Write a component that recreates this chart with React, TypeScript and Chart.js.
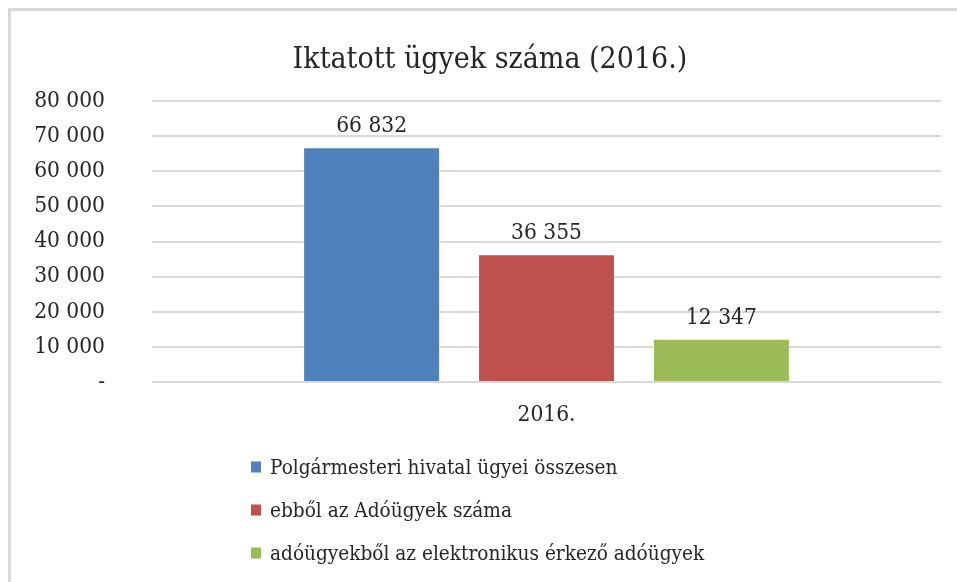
import React, { useEffect, useRef } from "react";
import { Chart, registerables } from "chart.js";

Chart.register(...registerables);

const TITLE = "Iktatott ügyek száma (2016.)";
const categories = ["2016."];
const seriesNames = [
  "Polgármesteri hivatal ügyei összesen",
  "ebből az Adóügyek száma",
  "adóügyekből az elektronikus érkező adóügyek",
];
const seriesValues = [[66832], [36355], [12347]];
const seriesColors = ["#4f81bd", "#c0504d", "#9bbb59"];
const yMin = 0;
const yMax = 80000;
const yStep = 10000;

const FONT = "'DejaVu Serif Condensed', 'DejaVu Serif', serif";
const TEXT = "#262626";

const fmt = (v: number) =>
  v === 0 ? "-" : String(Math.round(v)).replace(/\B(?=(\d{3})+(?!\d))/g, " ");

const titleDraw = {
  id: "titleDraw",
  afterDraw(chart: any) {
    const ctx = chart.ctx;
    ctx.save();
    ctx.font = `30px ${FONT}`;
    ctx.fillStyle = TEXT;
    ctx.textAlign = "center";
    ctx.textBaseline = "alphabetic";
    ctx.fillText(TITLE, 490, 68);
    ctx.restore();
  },
};

const dataLabels = {
  id: "dataLabels",
  afterDatasetsDraw(chart: any) {
    const ctx = chart.ctx;
    ctx.save();
    ctx.font = `22.5px ${FONT}`;
    ctx.fillStyle = TEXT;
    ctx.textAlign = "center";
    ctx.textBaseline = "alphabetic";
    chart.data.datasets.forEach((ds: any, i: number) => {
      const meta = chart.getDatasetMeta(i);
      meta.data.forEach((el: any, j: number) => {
        ctx.fillText(fmt(ds.data[j]), el.x, el.y - 15);
      });
    });
    ctx.restore();
  },
};

const legendList = {
  id: "legendList",
  afterDraw(chart: any) {
    const ctx = chart.ctx;
    const area = chart.chartArea;
    ctx.save();
    ctx.font = `20.6px ${FONT}`;
    ctx.textBaseline = "middle";
    ctx.textAlign = "left";
    chart.data.datasets.forEach((ds: any, i: number) => {
      const cy = area.bottom + 85 + i * 43;
      ctx.fillStyle = ds.backgroundColor;
      ctx.fillRect(251, cy - 5.5, 10, 11);
      ctx.fillStyle = TEXT;
      ctx.fillText(ds.label, 270, cy + 1.5);
    });
    ctx.restore();
  },
};

export default function App() {
  const ref = useRef<HTMLCanvasElement>(null);
  useEffect(() => {
    document.body.style.margin = "0";
    const chart = new Chart(ref.current!, {
      type: "bar",
      data: {
        labels: categories,
        datasets: seriesNames.map((name, i) => ({
          label: name,
          data: seriesValues[i],
          backgroundColor: seriesColors[i],
          borderColor: "rgba(255,255,255,0.3)",
          borderWidth: 1,
          categoryPercentage: 0.665,
          barPercentage: 0.783,
        })),
      },
      options: {
        animation: false,
        responsive: false,
        maintainAspectRatio: false,
        layout: { padding: { left: 0, right: 16, top: 101, bottom: 0 } },
        plugins: {
          legend: { display: false },
          tooltip: { enabled: false },
          title: { display: false },
        },
        scales: {
          x: {
            grid: { display: false },
            border: { display: false },
            ticks: {
              color: TEXT,
              font: { family: FONT, size: 22.5 },
              padding: 12,
            },
            afterFit: (s: any) => {
              s.height = 200;
            },
          },
          y: {
            min: yMin,
            max: yMax,
            grid: { color: "#d9d9d9", lineWidth: 2, drawTicks: false },
            border: { display: false },
            ticks: {
              stepSize: yStep,
              color: TEXT,
              font: { family: FONT, size: 22.5 },
              padding: 47,
              callback: (v: any) => fmt(Number(v)),
            },
            afterFit: (s: any) => {
              s.width = 152;
            },
          },
        },
      },
      plugins: [titleDraw, dataLabels, legendList],
    });
    return () => chart.destroy();
  }, []);
  return (
    <div
      style={{
        position: "absolute",
        left: 0,
        top: 0,
        width: 957,
        height: 582,
        background: "#fff",
        overflow: "hidden",
      }}
    >
      <div
        style={{
          position: "absolute",
          left: 8,
          top: 8,
          width: 2000,
          height: 2000,
          borderLeft: "3px solid #d9d9d9",
          borderTop: "3px solid #d9d9d9",
        }}
      />
      <canvas ref={ref} width={957} height={582} style={{ position: "absolute", left: 0, top: 0 }} />
    </div>
  );
}
